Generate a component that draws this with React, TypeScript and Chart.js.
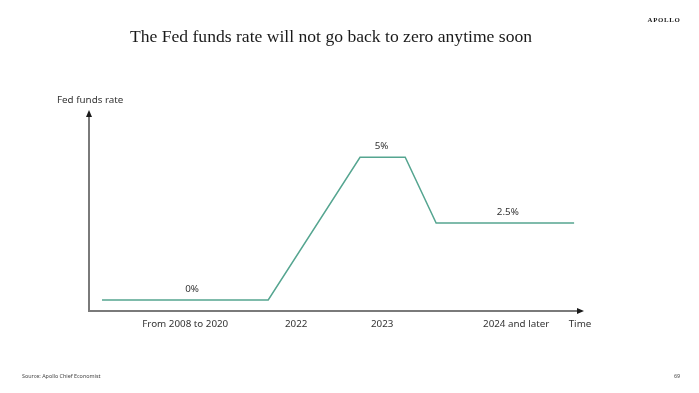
import React, { useEffect, useRef } from 'react';
import { Chart, registerables } from 'chart.js';

Chart.register(...registerables);

// Schematic time axis (0 = origin, 100 = end of arrow)
const pointTimes = [2.65, 36.5, 55.2, 64.4, 70.7, 98.8];
const pointRates = [0, 0, 5, 5, 2.7, 2.7];

const tickTimes = [19.6, 42.2, 59.7, 87.0, 100];
const tickLabels = ['From 2008 to 2020', '2022', '2023', '2024 and later', 'Time'];

const valueLabels = ['0%', '5%', '2.5%'];
const valueLabelTimes = [21, 59.6, 85.3];
const valueLabelRates = [0, 5, 2.7];

const TITLE = 'The Fed funds rate will not go back to zero anytime soon';
const Y_TITLE = 'Fed funds rate';
const SOURCE = 'Source: Apollo Chief Economist';
const PAGE = '69';
const BRAND = 'APOLLO';

const SANS = '"Noto Sans", "Open Sans", sans-serif';
const SERIF = '"Liberation Serif", "DejaVu Serif", serif';
const LABEL_SIZE = 9.8;

const overlay = {
  id: 'overlay',
  afterDraw(chart: any) {
    const ctx = chart.ctx as CanvasRenderingContext2D;
    const xs = chart.scales.x;
    const ys = chart.scales.y;
    const area = chart.chartArea;
    ctx.save();
    // arrow heads
    ctx.fillStyle = '#1a1a1a';
    ctx.beginPath();
    ctx.moveTo(area.left, area.top - 4);
    ctx.lineTo(area.left - 3, area.top + 3);
    ctx.lineTo(area.left + 3, area.top + 3);
    ctx.closePath();
    ctx.fill();
    ctx.beginPath();
    ctx.moveTo(area.right + 4, area.bottom);
    ctx.lineTo(area.right - 3, area.bottom - 3);
    ctx.lineTo(area.right - 3, area.bottom + 3);
    ctx.closePath();
    ctx.fill();

    // value labels
    ctx.fillStyle = '#333333';
    ctx.font = `${LABEL_SIZE}px ${SANS}`;
    ctx.textAlign = 'center';
    ctx.textBaseline = 'middle';
    valueLabels.forEach((t, i) => {
      const px = xs.getPixelForValue(valueLabelTimes[i]);
      const py = ys.getPixelForValue(valueLabelRates[i]);
      ctx.fillText(t, px, py - 11);
    });

    // y axis title
    ctx.textAlign = 'left';
    ctx.fillText(Y_TITLE, 57, 100);

    // title
    ctx.fillStyle = '#1a1a1a';
    ctx.font = `17.6px ${SERIF}`;
    ctx.textAlign = 'center';
    ctx.fillText(TITLE, 331, 37);

    // brand
    ctx.font = `bold 6.8px ${SERIF}`;
    (ctx as any).letterSpacing = '0.7px';
    ctx.fillText(BRAND, 664, 20);
    (ctx as any).letterSpacing = '0px';

    // source & page
    ctx.font = `5.4px ${SANS}`;
    ctx.fillStyle = '#444444';
    ctx.textAlign = 'left';
    ctx.fillText(SOURCE, 22, 376);
    ctx.textAlign = 'center';
    ctx.fillText(PAGE, 677, 376);
    ctx.restore();
  },
};

export default function App() {
  const ref = useRef<HTMLCanvasElement>(null);
  useEffect(() => {
    if (!ref.current) return;
    const chart = new Chart(ref.current, {
      type: 'line',
      data: {
        datasets: [
          {
            data: pointTimes.map((t, i) => ({ x: t, y: pointRates[i] })),
            borderColor: '#55a590',
            borderWidth: 1.5,
            pointRadius: 0,
            tension: 0,
          },
        ],
      },
      options: {
        animation: false,
        responsive: false,
        devicePixelRatio: 1,
        layout: { padding: { left: 89, right: 119, top: 114, bottom: 62 } },
        plugins: { legend: { display: false }, tooltip: { enabled: false } },
        scales: {
          x: {
            type: 'linear',
            min: 0,
            max: 100,
            grid: { display: false, drawTicks: false },
            border: { display: true, color: '#7a7a7a', width: 2 },
            afterBuildTicks: (scale: any) => {
              scale.ticks = tickTimes.map((v) => ({ value: v }));
            },
            afterFit: (scale: any) => {
              scale.height = 20;
            },
            ticks: {
              autoSkip: false,
              maxRotation: 0,
              padding: 7,
              color: '#333333',
              font: { family: SANS, size: LABEL_SIZE },
              callback: (value: any) => {
                const i = tickTimes.indexOf(value);
                return i >= 0 ? tickLabels[i] : '';
              },
            },
          },
          y: {
            type: 'linear',
            min: -0.385,
            max: 6.517,
            grid: { display: false, drawTicks: false },
            border: { display: true, color: '#7a7a7a', width: 2 },
            ticks: { display: false },
            afterFit: (scale: any) => {
              scale.width = 0;
            },
          },
        },
      },
      plugins: [overlay],
    });
    return () => chart.destroy();
  }, []);
  return (
    <div style={{ position: 'absolute', left: 0, top: 0, width: 699, height: 393, background: '#fff' }}>
      <canvas ref={ref} width={699} height={393} />
    </div>
  );
}
